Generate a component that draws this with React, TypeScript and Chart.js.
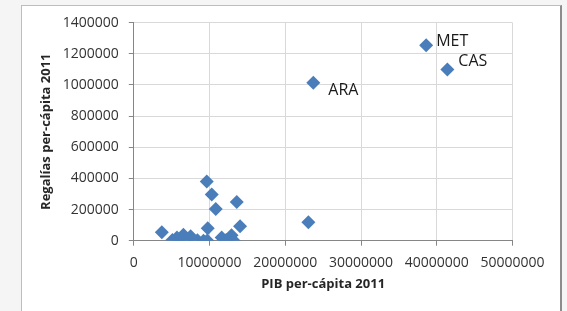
import React, { useEffect, useRef } from "react";
import { Chart, registerables } from "chart.js";

Chart.register(...registerables);

// ---- data ----
const pibPerCapita = [
  38600000, 41400000, 23700000, 23050000, 9630000, 10290000, 10820000, 13590000,
  14030000, 9760000, 3700000, 5100000, 5700000, 6550000, 6700000, 7500000,
  8400000, 9200000, 9700000, 11600000, 12200000, 12900000, 13200000,
];
const regaliasPerCapita = [
  1255000, 1100000, 1015000, 119000, 380000, 296000, 203000, 248000,
  93000, 80000, 55000, 5000, 20000, 38000, 0, 28000,
  3000, 0, 2000, 20000, 5000, 35000, 0,
];
const pointLabels = [
  "MET", "CAS", "ARA", "", "", "", "", "",
  "", "", "", "", "", "", "", "",
  "", "", "", "", "", "", "",
];
const xTickLabels = ["0", "10000000", "20000000", "30000000", "40000000", "50000000"];
const yTickLabels = ["0", "200000", "400000", "600000", "800000", "1000000", "1200000", "1400000"];
const xTitle = "PIB per-cápita 2011";
const yTitle = "Regalías per-cápita 2011";

// ---- styles ----
const labelOffsets: Record<string, [number, number]> = {
  MET: [10, -4],
  CAS: [11, -8],
  ARA: [15, 8],
};
const FONT = "'Open Sans', 'DejaVu Sans', sans-serif";
const markerColor = "#4A7EBB";

const labelPlugin = {
  id: "pointLabels",
  afterDatasetsDraw(chart: any) {
    const { ctx, scales } = chart;
    ctx.save();
    ctx.font = `16px ${FONT}`;
    ctx.fillStyle = "#1a1a1a";
    ctx.textAlign = "left";
    ctx.textBaseline = "middle";
    pointLabels.forEach((lab, i) => {
      if (!lab) return;
      const off = labelOffsets[lab] || [10, 0];
      const x = scales.x.getPixelForValue(pibPerCapita[i]);
      const y = scales.y.getPixelForValue(regaliasPerCapita[i]);
      ctx.fillText(lab, x + off[0], y + off[1]);
    });
    ctx.restore();
  },
};

export default function App() {
  const ref = useRef<HTMLCanvasElement>(null);
  useEffect(() => {
    document.body.style.margin = "0";
    const canvas = ref.current!;
    const chart = new Chart(canvas, {
      type: "scatter",
      data: {
        datasets: [
          {
            data: pibPerCapita.map((x, i) => ({ x, y: regaliasPerCapita[i] })),
            pointStyle: "rectRot",
            pointRadius: 7,
            pointHoverRadius: 7,
            backgroundColor: markerColor,
            borderColor: markerColor,
            borderWidth: 0,
          },
        ],
      },
      options: {
        animation: false,
        responsive: false,
        maintainAspectRatio: false,
        events: [],
        layout: { padding: { left: 0, right: 54.5, top: 22.7, bottom: 0 } },
        plugins: { legend: { display: false }, tooltip: { enabled: false } },
        scales: {
          x: {
            type: "linear",
            min: 0,
            max: 50000000,
            ticks: {
              stepSize: 10000000,
              padding: 9,
              color: "#333333",
              font: { family: FONT, size: 14 },
              maxRotation: 0,
              autoSkip: false,
              callback: (_v: any, i: number) => xTickLabels[i],
            },
            grid: { color: "#d9d9d9", tickColor: "#868686", tickLength: 5, lineWidth: 1 },
            border: { color: "#868686", width: 1 },
            title: {
              display: true,
              text: xTitle,
              color: "#262626",
              font: { family: FONT, size: 13, weight: "bold" },
              padding: { top: 0, bottom: 19 },
            },
            afterFit: (s: any) => {
              s.height = 70.3;
            },
          },
          y: {
            type: "linear",
            min: 0,
            max: 1400000,
            ticks: {
              stepSize: 200000,
              padding: 10,
              color: "#333333",
              font: { family: FONT, size: 14 },
              autoSkip: false,
              callback: (_v: any, i: number) => yTickLabels[i],
            },
            grid: { color: "#d9d9d9", tickColor: "#868686", tickLength: 5, lineWidth: 1 },
            border: { color: "#868686", width: 1 },
            title: {
              display: true,
              text: yTitle,
              color: "#262626",
              font: { family: FONT, size: 13, weight: "bold" },
              padding: { top: 38, bottom: 0 },
            },
            afterFit: (s: any) => {
              s.width = 133.8;
            },
          },
        },
      },
      plugins: [labelPlugin],
    });
    return () => chart.destroy();
  }, []);

  return (
    <div
      style={{
        position: "fixed",
        left: 0,
        top: 0,
        width: 567,
        height: 311,
        background: "#f5f5f5",
        overflow: "hidden",
      }}
    >
      <div
        style={{
          position: "absolute",
          left: 21,
          top: 5,
          width: 538,
          height: 330,
          background: "#ffffff",
          borderLeft: "1px solid #bdbdbd",
          borderTop: "1px solid #bdbdbd",
          borderRight: "2px solid #8c8c8c",
        }}
      />
      <canvas
        ref={ref}
        width={567}
        height={311}
        style={{ position: "absolute", left: 0, top: 0, width: 567, height: 311 }}
      />
    </div>
  );
}
